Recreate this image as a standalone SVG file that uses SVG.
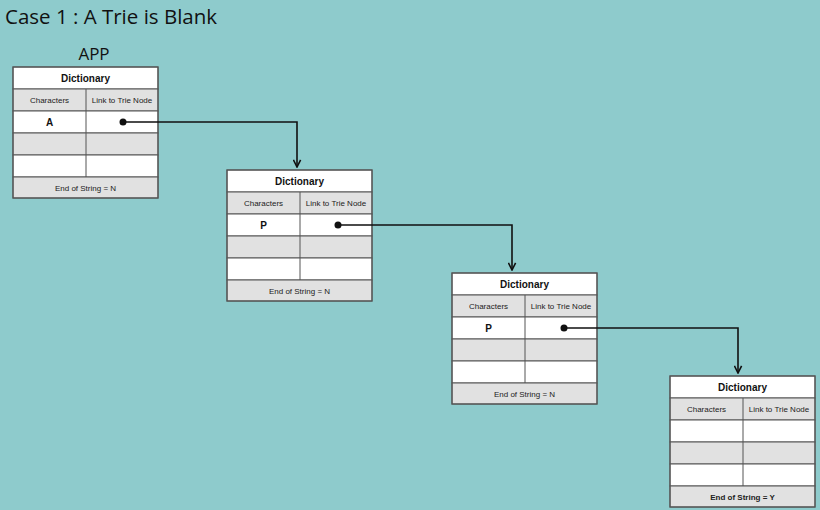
<svg xmlns="http://www.w3.org/2000/svg" width="820" height="510" viewBox="0 0 820 510">
<defs>
<style>
.w{fill:#ffffff;stroke:#555;stroke-width:1}
.g{fill:#e1e1e1;stroke:#555;stroke-width:1}
.frame{fill:none;stroke:#555;stroke-width:1.2}
.t{font-family:"Liberation Sans",Arial,sans-serif;font-size:10px;font-weight:bold;fill:#111;text-anchor:middle}
.s{font-family:"Liberation Sans",Arial,sans-serif;font-size:8px;fill:#222;text-anchor:middle}
.c{font-family:"Liberation Sans",Arial,sans-serif;font-size:10px;font-weight:bold;fill:#111;text-anchor:middle}
.conn{fill:none;stroke:#111;stroke-width:1.6}
</style>
<marker id="ah" viewBox="0 0 10 10" refX="9" refY="5" markerWidth="9" markerHeight="9" markerUnits="userSpaceOnUse" orient="auto">
<path d="M1,1 L9,5 L1,9" fill="none" stroke="#111" stroke-width="1.8"/>
</marker>
<g id="tbl">
<rect class="w" x="0" y="0" width="145" height="22"/>
<rect class="g" x="0" y="22" width="145" height="22"/>
<rect class="w" x="0" y="44" width="145" height="22"/>
<rect class="g" x="0" y="66" width="145" height="22"/>
<rect class="w" x="0" y="88" width="145" height="22"/>
<rect class="g" x="0" y="110" width="145" height="21"/>
<line x1="73" y1="22" x2="73" y2="110" stroke="#555" stroke-width="1"/>
<rect class="frame" x="0" y="0" width="145" height="131"/>
<text class="t" x="72.5" y="15">Dictionary</text>
<text class="s" x="36.5" y="36">Characters</text>
<text class="s" x="109" y="36">Link to Trie Node</text>
</g>
</defs>
<rect x="0" y="0" width="820" height="510" fill="#8ecbcc"/>
<text x="5" y="24" font-family="'Open Sans','DejaVu Sans',sans-serif" font-size="20.5" fill="#111">Case 1 : A Trie is Blank</text>
<text x="94" y="60" font-family="'Open Sans','DejaVu Sans',sans-serif" font-size="17" fill="#111" text-anchor="middle">APP</text>

<g id="node1" transform="translate(13,67)">
<use href="#tbl"/>
<text class="c" x="36.5" y="59">A</text>
<text class="s" x="72.5" y="124">End of String = N</text>
</g>
<g id="node2" transform="translate(227,170)">
<use href="#tbl"/>
<text class="c" x="36.5" y="59">P</text>
<text class="s" x="72.5" y="124">End of String = N</text>
</g>
<g id="node3" transform="translate(452,273)">
<use href="#tbl"/>
<text class="c" x="36.5" y="59">P</text>
<text class="s" x="72.5" y="124">End of String = N</text>
</g>
<g id="node4" transform="translate(670,376)">
<use href="#tbl"/>
<text class="s" x="72.5" y="124" font-weight="bold">End of String = Y</text>
</g>

<g id="connectors">
<circle cx="123" cy="122" r="3.5" fill="#111"/>
<path class="conn" d="M123,122 H297 V167" marker-end="url(#ah)"/>
<circle cx="338" cy="225" r="3.5" fill="#111"/>
<path class="conn" d="M338,225 H512 V270" marker-end="url(#ah)"/>
<circle cx="564" cy="328" r="3.5" fill="#111"/>
<path class="conn" d="M564,328 H738 V373" marker-end="url(#ah)"/>
</g>
</svg>
